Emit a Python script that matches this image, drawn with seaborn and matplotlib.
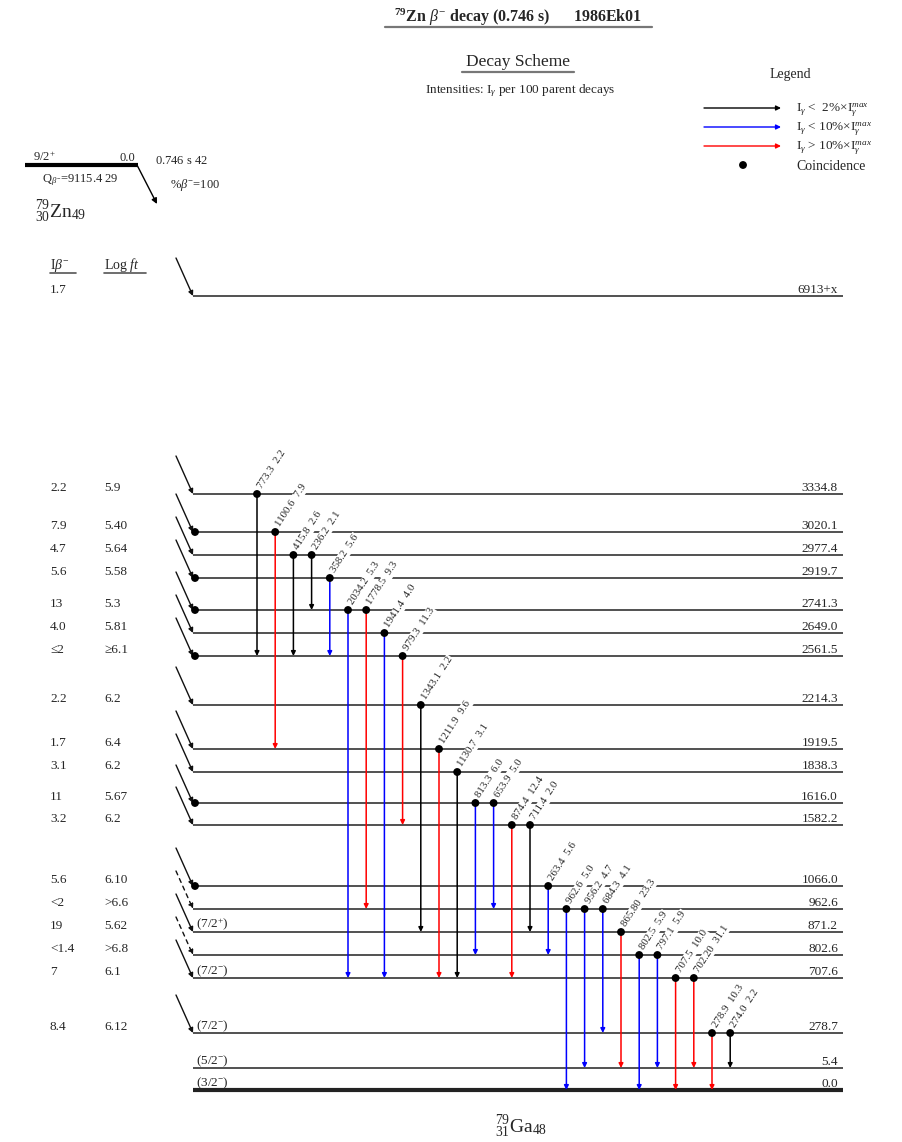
import matplotlib
matplotlib.use("Agg")
import matplotlib.pyplot as plt
import numpy as np
import pandas as pd
import seaborn as sns

# ---------------- data ----------------
levels = ["6913+x", "3334.8", "3020.1", "2977.4", "2919.7", "2741.3", "2649.0",
          "2561.5", "2214.3", "1919.5", "1838.3", "1616.0", "1582.2", "1066.0",
          "962.6", "871.2", "802.6", "707.6", "278.7", "5.4", "0.0"]
beta_intensity = ["1.7", "2.2", "7.9", "4.7", "5.6", "13", "4.0", "≤2", "2.2", "1.7",
                  "3.1", "11", "3.2", "5.6", "<2", "19", "<1.4", "7", "8.4", "", ""]
log_ft = ["", "5.9", "5.40", "5.64", "5.58", "5.3", "5.81", "≥6.1", "6.2", "6.4",
          "6.2", "5.67", "6.2", "6.10", ">6.6", "5.62", ">6.8", "6.1", "6.12", "", ""]
spins = {"871.2": "(7/2$^{+}$)", "707.6": "(7/2$^{-}$)", "278.7": "(7/2$^{-}$)",
         "5.4": "(5/2$^{-}$)", "0.0": "(3/2$^{-}$)"}
uncertain_feeding = ["962.6", "802.6"]
feeding_coincidence = ["3020.1", "2919.7", "2741.3", "2561.5", "1616.0", "1066.0"]

gamma_energy = ["773.3", "1100.6", "415.8", "236.2", "358.2", "2034.2", "1778.5",
                "1941.4", "979.3", "1343.1", "1211.9", "1130.7", "813.3", "653.9",
                "874.4", "711.4", "263.4", "962.6", "956.2", "684.3", "865.80",
                "802.5", "797.1", "707.5", "702.20", "278.9", "274.0"]
gamma_intensity = ["2.2", "7.9", "2.6", "2.1", "5.6", "5.3", "9.3", "4.0", "11.3",
                   "2.2", "9.6", "3.1", "6.0", "5.0", "12.4", "2.0", "5.6", "5.0",
                   "4.7", "4.1", "23.3", "5.9", "5.9", "10.0", "31.1", "10.3", "2.2"]
gamma_from = ["3334.8", "3020.1", "2977.4", "2977.4", "2919.7", "2741.3", "2741.3",
              "2649.0", "2561.5", "2214.3", "1919.5", "1838.3", "1616.0", "1616.0",
              "1582.2", "1582.2", "1066.0", "962.6", "962.6", "962.6", "871.2",
              "802.6", "802.6", "707.6", "707.6", "278.7", "278.7"]
gamma_to = ["2561.5", "1919.5", "2561.5", "2741.3", "2561.5", "707.6", "962.6",
            "707.6", "1582.2", "871.2", "707.6", "707.6", "802.6", "962.6", "707.6",
            "871.2", "802.6", "0.0", "5.4", "278.7", "5.4", "0.0", "5.4", "0.0",
            "5.4", "0.0", "5.4"]
gamma_class = ["weak", "strong", "weak", "weak", "medium", "medium", "strong",
               "medium", "strong", "weak", "strong", "weak", "medium", "medium",
               "strong", "weak", "medium", "medium", "medium", "medium", "strong",
               "medium", "medium", "strong", "strong", "strong", "weak"]

# ---------------- layout ----------------
W, H = 902, 1142
level_rows = [296, 494, 532, 555, 578, 610, 633, 656, 705, 749, 772, 803, 825,
              886, 909, 932, 955, 978, 1033, 1068, 1090]
row = dict(zip(levels, level_rows))
x_left, x_right = 193, 843
gamma_x0, gamma_dx = 257, 18.2
class_color = {"weak": "#000000", "medium": "#0000ff", "strong": "#ff0000"}

sns.set_theme(style="white")
plt.rcParams["font.family"] = ["Liberation Serif", "DejaVu Serif"]
plt.rcParams["mathtext.fontset"] = "custom"
plt.rcParams["mathtext.rm"] = "Liberation Serif"
plt.rcParams["mathtext.it"] = "Liberation Serif:italic"
plt.rcParams["mathtext.bf"] = "Liberation Serif:bold"

fig = plt.figure(figsize=(W / 100, H / 100), dpi=100)
ax = fig.add_axes([0, 0, 1, 1])
ax.set_xlim(0, W)
ax.set_ylim(H, 0)
ax.axis("off")

# ---------------- headings ----------------
ax.text(518, 22, r"$\mathbf{^{79}Zn}$ $\beta^{-}$ decay (0.746 s)      1986Ek01",
        fontsize=11.5, fontweight="bold", ha="center", va="baseline")
ax.plot([385, 652], [27, 27], color="#777777", lw=1.6)
ax.text(518, 66, "Decay Scheme", fontsize=12.5, ha="center", va="baseline")
ax.plot([462, 574], [71.5, 71.5], color="#777777", lw=1.6)
ax.text(520, 93, r"Intensities: I$_{\gamma}$ per 100 parent decays", fontsize=9.5,
        ha="center", va="baseline")

# ---------------- legend ----------------
ax.text(790, 78, "Legend", fontsize=10, ha="center", va="baseline")
legend_rows = [("weak", r"I$_{\gamma}$ <  2%$\times$I$_{\gamma}^{max}$", 108),
               ("medium", r"I$_{\gamma}$ < 10%$\times$I$_{\gamma}^{max}$", 127),
               ("strong", r"I$_{\gamma}$ > 10%$\times$I$_{\gamma}^{max}$", 146)]
for cls, label, yy in legend_rows:
    ax.annotate("", xy=(781, yy), xytext=(704, yy),
                arrowprops=dict(arrowstyle="-|>", color=class_color[cls], lw=1.0,
                                mutation_scale=7, shrinkA=0, shrinkB=0))
    ax.text(796, yy + 4, label, fontsize=9.5, ha="left", va="baseline")
ax.text(796, 170, "Coincidence", fontsize=10, ha="left", va="baseline")

# ---------------- parent ----------------
ax.plot([25, 138], [165, 165], color="black", lw=3, solid_capstyle="butt")
ax.text(33, 161, "9/2$^{+}$", fontsize=9, ha="left", va="baseline")
ax.text(135, 161, "0.0", fontsize=9, ha="right", va="baseline")
ax.text(155, 164, r"0.746 s $\mathit{42}$", fontsize=9, ha="left", va="baseline")
ax.text(42, 182, r"Q$_{\beta^{-}}$=9115.4 29", fontsize=9, ha="left", va="baseline")
ax.text(170, 188, r"%$\beta^{-}$=100", fontsize=9, ha="left", va="baseline")
ax.annotate("", xy=(157, 204), xytext=(137, 165),
            arrowprops=dict(arrowstyle="-|>", color="black", lw=1.0,
                            mutation_scale=8, shrinkA=0, shrinkB=0))
ax.text(35, 218, r"$^{79}_{30}$Zn$_{49}$", fontsize=14, ha="left", va="baseline")

# ---------------- table headers ----------------
ax.text(50, 269, r"I$\beta^{-}$", fontsize=10, ha="left", va="baseline")
ax.plot([50, 76], [273, 273], color="#555555", lw=1.2)
ax.text(104, 269, r"Log $\mathit{ft}$", fontsize=10, ha="left", va="baseline")
ax.plot([104, 146], [273, 273], color="#555555", lw=1.2)

# ---------------- levels ----------------
for lev, ib, lf in zip(levels, beta_intensity, log_ft):
    y = row[lev]
    lw = 3 if lev == "0.0" else 1.1
    ax.plot([x_left, x_right], [y, y], color="#222222", lw=lw,
            solid_capstyle="butt", zorder=1)
    ax.text(838, y - 3, lev, fontsize=9.5, ha="right", va="baseline", zorder=2)
    if lev in spins:
        ax.text(196, y - 4, spins[lev], fontsize=9.5, ha="left", va="baseline",
                zorder=2)
    if ib:
        ax.text(50, y - 3, ib, fontsize=9.5, ha="left", va="baseline")
    if lf:
        ax.text(104, y - 3, lf, fontsize=9.5, ha="left", va="baseline")
    if ib:
        ls = (0, (3, 3)) if lev in uncertain_feeding else "-"
        ax.annotate("", xy=(x_left, y), xytext=(x_left - 17, y - 38),
                    arrowprops=dict(arrowstyle="-|>", color="#111111", lw=1.0,
                                    linestyle=ls, mutation_scale=7,
                                    shrinkA=0, shrinkB=0), zorder=3)

# ---------------- gamma transitions ----------------
dots = []
for i, (e, inten, f, t, cls) in enumerate(zip(gamma_energy, gamma_intensity,
                                               gamma_from, gamma_to, gamma_class)):
    x = gamma_x0 + i * gamma_dx
    y0, y1 = row[f], row[t]
    ax.annotate("", xy=(x, y1), xytext=(x, y0),
                arrowprops=dict(arrowstyle="-|>", color=class_color[cls], lw=1.1,
                                mutation_scale=6.5, shrinkA=0, shrinkB=0),
                zorder=3)
    ax.text(x + 3, y0 - 6, f"{e}  {inten}", fontsize=7.8, rotation=57,
            rotation_mode="anchor", ha="left", va="center", zorder=2.5,
            bbox=dict(fc="white", ec="none", pad=0.6))
    dots.append((x, y0))

for lev in feeding_coincidence:
    dots.append((x_left + 2, row[lev]))
dots.append((743, 165))

dot_df = pd.DataFrame(dots, columns=["x", "y"])
sns.scatterplot(data=dot_df, x="x", y="y", ax=ax, color="black", s=32,
                edgecolor="none", zorder=5, legend=False)
ax.set_xlim(0, W)
ax.set_ylim(H, 0)
ax.axis("off")

ax.text(495, 1133, r"$^{79}_{31}$Ga$_{48}$", fontsize=14, ha="left", va="baseline")

fig.savefig("out.png", dpi=100, facecolor="white")
